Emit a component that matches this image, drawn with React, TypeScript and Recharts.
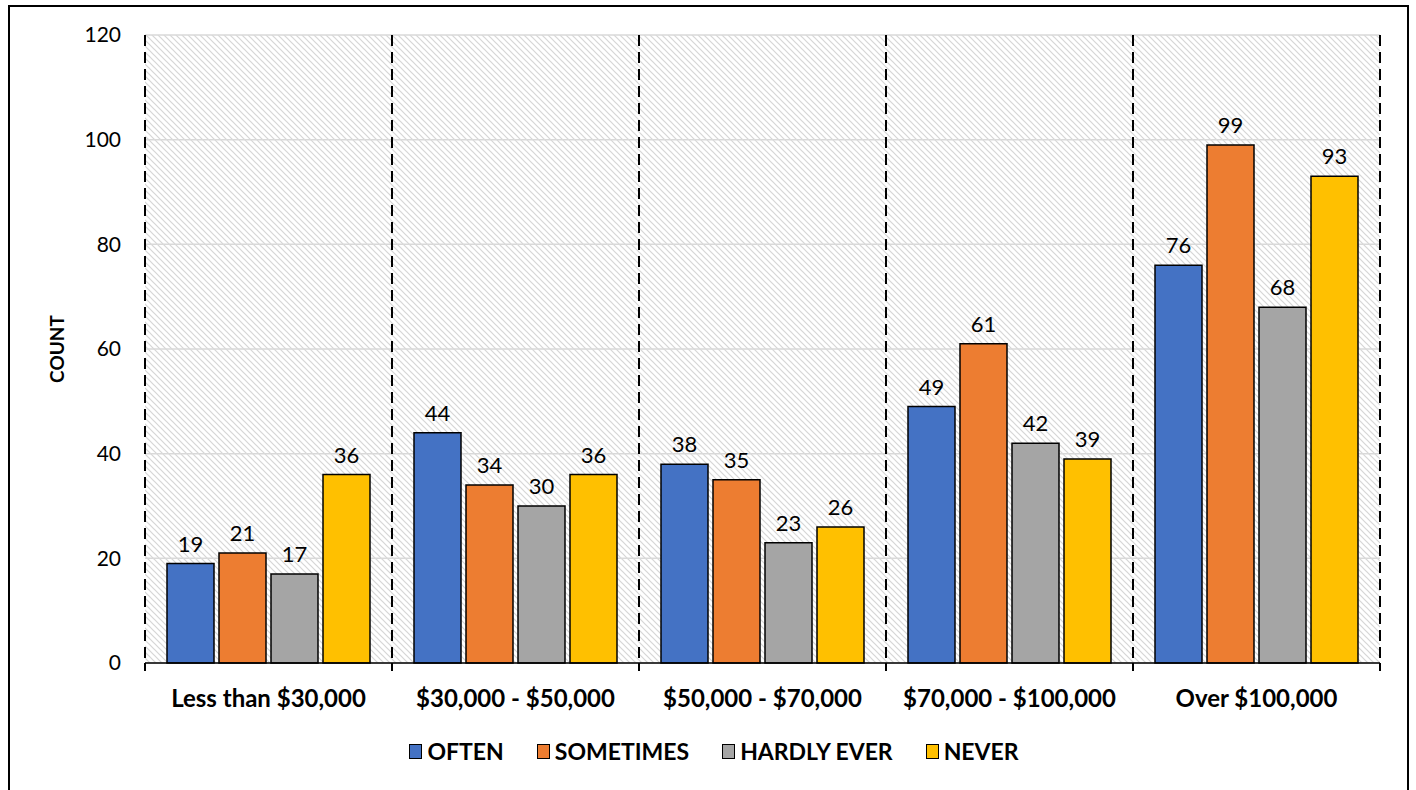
import { Bar, BarChart, CartesianGrid, LabelList, Legend, XAxis, YAxis } from "recharts";

const categories = [
  "Less than $30,000",
  "$30,000 - $50,000",
  "$50,000 - $70,000",
  "$70,000 - $100,000",
  "Over $100,000",
];
const often = [19, 44, 38, 49, 76];
const sometimes = [21, 34, 35, 61, 99];
const hardlyEver = [17, 30, 23, 42, 68];
const never = [36, 36, 26, 39, 93];
const yTicks = [0, 20, 40, 60, 80, 100, 120];

const series = [
  { key: "often", name: "OFTEN", color: "#4472C4" },
  { key: "sometimes", name: "SOMETIMES", color: "#ED7D31" },
  { key: "hardlyEver", name: "HARDLY EVER", color: "#A5A5A5" },
  { key: "never", name: "NEVER", color: "#FFC000" },
];

const data = categories.map((c, i) => ({
  category: c,
  often: often[i],
  sometimes: sometimes[i],
  hardlyEver: hardlyEver[i],
  never: never[i],
}));

const FONT = "Lato, 'Open Sans', sans-serif";
const TICK_MARGIN = 27;

// category label plus the short tick marks at the band edges
function CategoryTick(props: any) {
  const { x, y, payload } = props;
  const half = payload.offset ?? 0;
  const axisY = y - TICK_MARGIN;
  return (
    <g>
      <line x1={x - half} x2={x - half} y1={axisY} y2={axisY + 8} stroke="#000" strokeWidth={2} />
      <line x1={x + half} x2={x + half} y1={axisY} y2={axisY + 8} stroke="#000" strokeWidth={2} />
      <text
        x={x}
        y={y}
        dy="0.71em"
        textAnchor="middle"
        fontSize={24}
        fontWeight={700}
        fill="#000"
        fontFamily={FONT}
      >
        {payload.value}
      </text>
    </g>
  );
}

function LegendBox() {
  return (
    <div
      style={{
        display: "flex",
        justifyContent: "center",
        gap: 33,
        fontFamily: FONT,
        paddingTop: 12,
        paddingLeft: 38,
      }}
    >
      {series.map((s) => (
        <div key={s.key} style={{ display: "flex", alignItems: "center", gap: 5 }}>
          <span
            style={{
              width: 11,
              height: 13,
              background: s.color,
              border: "1.5px solid #000",
              display: "inline-block",
            }}
          />
          <span style={{ fontSize: 23, fontWeight: 700, color: "#000" }}>{s.name}</span>
        </div>
      ))}
    </div>
  );
}

export default function App() {
  return (
    <div
      style={{
        position: "absolute",
        left: 8,
        top: 5,
        width: 1401,
        height: 800,
        border: "2px solid #000",
        boxSizing: "border-box",
        background: "#fff",
      }}
    >
      <BarChart
        width={1397}
        height={782}
        data={data}
        margin={{ top: 28, right: 27, bottom: 24, left: 0 }}
        barCategoryGap={22}
        barGap={5}
      >
        <defs>
          <pattern id="hatch" patternUnits="userSpaceOnUse" width="6" height="6">
            <rect width="6" height="6" fill="#fff" />
            <path d="M0,0 L6,6 M-1,5 L1,7 M5,-1 L7,1" stroke="#d6d6d6" strokeWidth={1.2} />
          </pattern>
        </defs>
        <CartesianGrid
          vertical={false}
          stroke="#d9d9d9"
          strokeWidth={1.5}
          fill="url(#hatch)"
          fillOpacity={1}
        />
        <CartesianGrid
          horizontal={false}
          stroke="#000"
          strokeWidth={2}
          strokeDasharray="11 6"
          verticalCoordinatesGenerator={({ offset }: any) =>
            Array.from({ length: categories.length + 1 }, (_, i) => offset.left + (i * offset.width) / categories.length)
          }
        />
        <XAxis
          dataKey="category"
          height={62}
          axisLine={{ stroke: "#000", strokeWidth: 1.5 }}
          tickLine={false}
          tickSize={0}
          tickMargin={TICK_MARGIN}
          tick={<CategoryTick />}
        />
        <YAxis
          domain={[0, 120]}
          ticks={yTicks}
          width={135}
          axisLine={false}
          tickLine={false}
          tickSize={0}
          tickMargin={24}
          tick={{ fontSize: 21, fill: "#000", fontFamily: FONT }}
          label={{
            value: "COUNT",
            angle: -90,
            position: "insideLeft",
            offset: 47,
            style: { fontSize: 19, fontWeight: 700, fill: "#000", fontFamily: FONT, textAnchor: "middle" },
          }}
        />
        <Legend verticalAlign="bottom" height={40} content={() => <LegendBox />} />
        {series.map((s) => (
          <Bar
            key={s.key}
            dataKey={s.key}
            name={s.name}
            fill={s.color}
            stroke="#000"
            strokeWidth={1.5}
            isAnimationActive={false}
          >
            <LabelList
              dataKey={s.key}
              position="top"
              offset={12}
              style={{ fontSize: 22, fill: "#000", fontFamily: FONT }}
            />
          </Bar>
        ))}
      </BarChart>
    </div>
  );
}
